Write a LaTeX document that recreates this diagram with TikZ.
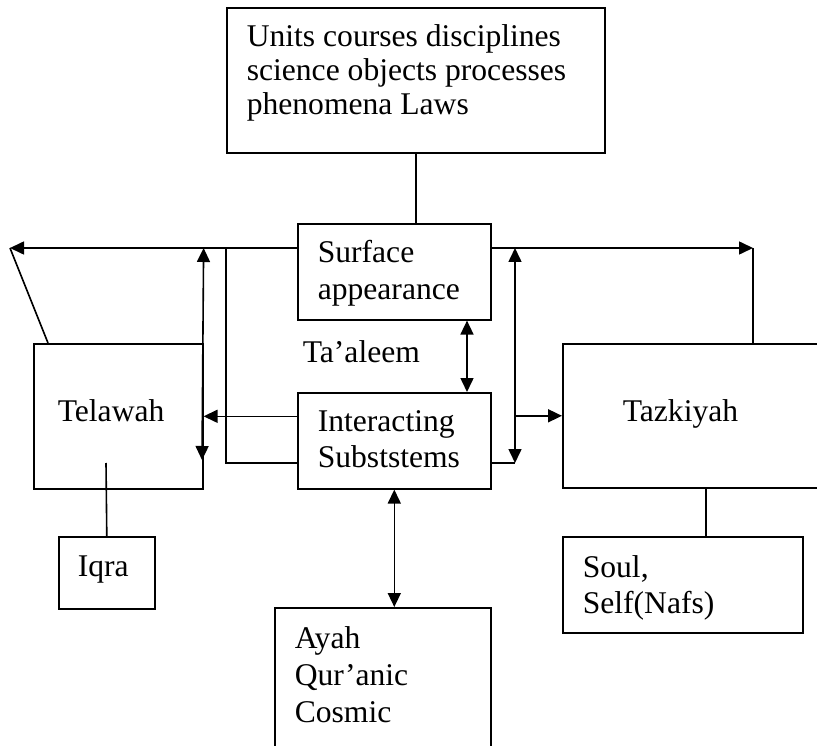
\documentclass[tikz,border=0pt]{standalone}
\usepackage{fontspec}
\setmainfont{Liberation Serif}
\usetikzlibrary{arrows.meta,calc}
\begin{document}
\begin{tikzpicture}[x=1pt,y=-1pt,
  line width=1.6pt,
  box/.style={draw, line width=1.6pt, inner sep=0pt, anchor=north west},
  txt/.style={inner sep=0pt, anchor=base west, align=left, font=\fontsize{31.6}{36}\selectfont},
  arr/.style={-{Triangle[length=14pt,width=13pt]}},
  darr/.style={{Triangle[length=14pt,width=13pt]}-{Triangle[length=14pt,width=13pt]}},
]
\path[use as bounding box, clip] (0,0) rectangle (817,746);
\fill[white] (0,0) rectangle (817,746);

% boxes
\node[box, minimum width=378pt, minimum height=145pt] (top) at (226,7) {};
\node[box, minimum width=193pt, minimum height=96pt] (surf) at (297,223) {};
\node[box, minimum width=193pt, minimum height=96pt] (inter) at (297,392) {};
\node[box, minimum width=169pt, minimum height=145pt] (tel) at (33,343) {};
\node[box, minimum width=280pt, minimum height=144pt] (taz) at (562,343) {};
\node[box, minimum width=96pt, minimum height=72pt] (iqra) at (58,536) {};
\node[box, minimum width=240pt, minimum height=96pt] (soul) at (562,536) {};
\node[box, minimum width=216pt, minimum height=170pt] (ayah) at (274,607) {};

% texts (anchor = baseline of the last line)
\node[txt, font=\fontsize{31.6}{34}\selectfont] (toptxt) at (246,115) {Units courses disciplines\\science objects processes\\phenomena Laws};
\node[txt] (surftxt) at (317,299) {Surface\\appearance};
\node[txt] (intertxt) at (317,467) {Interacting\\Subststems};
\node[txt] (taaleem) at (302,362) {Ta’aleem};
\node[txt] (teltxt) at (57,421) {Telawah};
\node[txt] (taztxt) at (622,421) {Tazkiyah};
\node[txt] (iqratxt) at (77,576) {Iqra};
\node[txt] (soultxt) at (582,613) {Soul,\\Self(Nafs)};
\node[txt, font=\fontsize{31.6}{37}\selectfont] (ayahtxt) at (294,722) {Ayah\\Qur’anic\\Cosmic};

% named points
\coordinate (LT) at (10,248);
\coordinate (LJ) at (226,248);
\coordinate (LB) at (226,463);
\coordinate (TB) at (202,460);
\coordinate (RT) at (753,248);
\coordinate (RA) at (515,248);
\coordinate (RB) at (515,463);
\coordinate (TAx) at (467,350);
\coordinate (TS) at (706,487);
\coordinate (IQ) at (106,463);
\coordinate (SL) at (48,343);

% connectors
\draw (top.south) -- (top.south |- surf.north);
\draw[arr] (surf.west |- LT) -- (LT);
\draw (LT) -- (SL);
\draw[darr] (tel.east |- LT) -- (TB);
\draw[arr] (inter.west |- tel.east) -- (tel.east);
\draw (inter.west |- LB) -- (LB) -- (LJ);
\draw[darr] (surf.south -| TAx) -- (inter.north -| TAx);
\draw[arr] (surf.east |- RT) -- (RT);
\draw (RT) -- (RT |- taz.north);
\draw[darr] (RA) -- (RB);
\draw (inter.east |- RB) -- (RB);
\draw[arr] (RB |- taz.west) -- (taz.west);
\draw (TS) -- (TS |- soul.north);
\draw (IQ) -- (iqra.north);
\draw[darr] (inter.south) -- (inter.south |- ayah.north);
\end{tikzpicture}
\end{document}
